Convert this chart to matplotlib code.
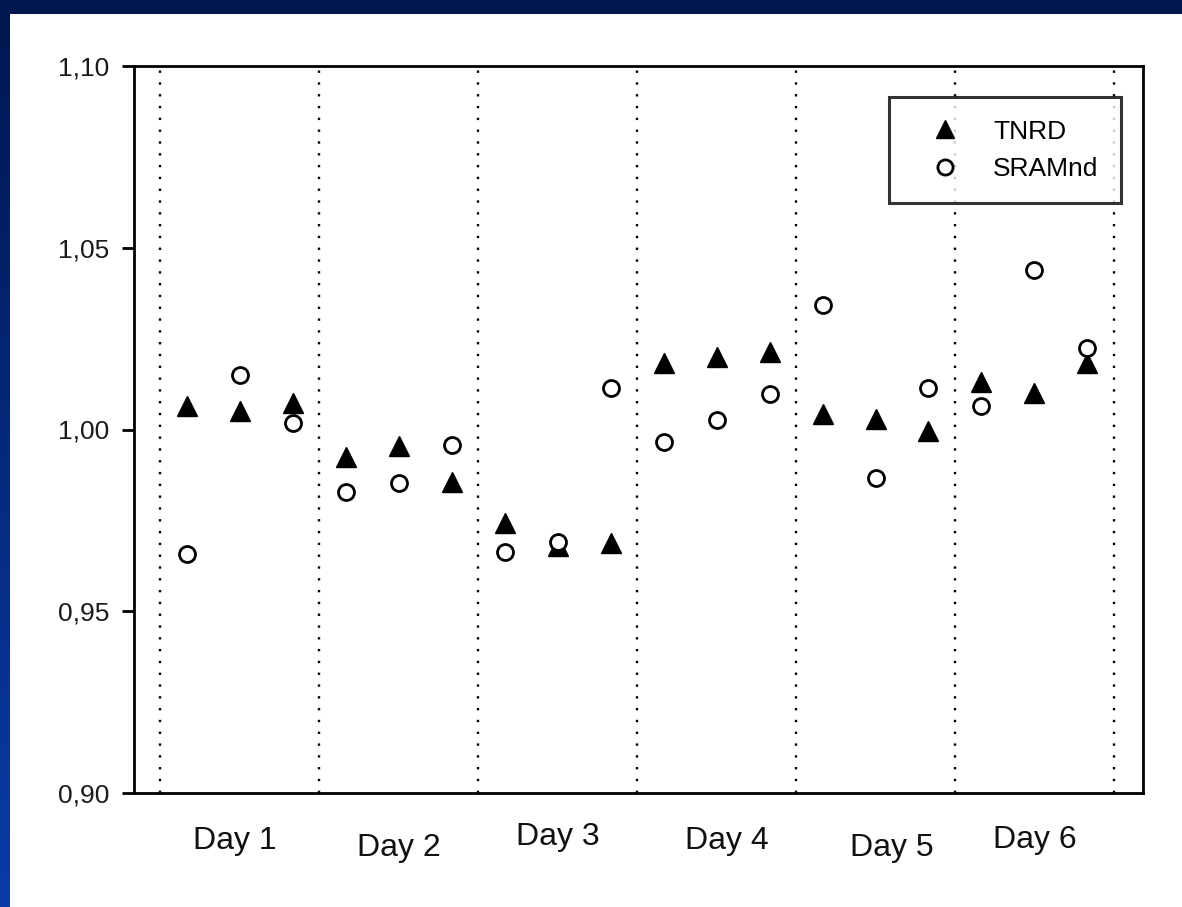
import numpy as np
import matplotlib
matplotlib.use("Agg")
import matplotlib.pyplot as plt

plt.rcParams["font.family"] = ["Liberation Sans", "DejaVu Sans"]

# data, three runs per day
days = ["Day 1", "Day 2", "Day 3", "Day 4", "Day 5", "Day 6"]
tnrd = [1.0065, 1.0051, 1.0073,
        0.9924, 0.9954, 0.9856,
        0.9743, 0.9680, 0.9688,
        1.0183, 1.0199, 1.0213,
        1.0043, 1.0029, 0.9995,
        1.0131, 1.0100, 1.0183]
sramnd = [0.9657, 1.0150, 1.0018,
          0.9828, 0.9853, 0.9958,
          0.9664, 0.9691, 1.0115,
          0.9965, 1.0026, 1.0097,
          1.0342, 0.9866, 1.0114,
          1.0064, 1.0439, 1.0225]
y_ticks = [0.90, 0.95, 1.00, 1.05, 1.10]
y_tick_labels = ["0,90", "0,95", "1,00", "1,05", "1,10"]

x = np.arange(1, len(tnrd) + 1)

fig = plt.figure(figsize=(11.82, 9.07), dpi=100)

# blue slide frame (top and left)
bg = fig.add_axes([0, 0, 1, 1])
grad = np.linspace(0, 1, 256).reshape(-1, 1)
bg.imshow(grad, aspect="auto", extent=[0, 1, 0, 1],
          cmap=matplotlib.colors.LinearSegmentedColormap.from_list(
              "slide", ["#0a3ca8", "#001650"]), origin="lower")
bg.add_patch(plt.Rectangle((10 / 1182, 0), 1, 1 - 14 / 907,
                           facecolor="white", edgecolor="none"))
bg.set_xlim(0, 1)
bg.set_ylim(0, 1)
bg.axis("off")

ax = fig.add_axes([134 / 1182, 114 / 907, 1009 / 1182, 727 / 907])
ax.set_facecolor("none")

# day separators
for k in range(len(days) + 1):
    ax.axvline(0.5 + 3 * k, color="black", lw=1.7, ls=(0, (1, 4.0)), zorder=1)

ax.plot(x, tnrd, ls="none", marker="^", ms=14, color="black",
        label="TNRD", zorder=3)
ax.plot(x, sramnd, ls="none", marker="o", ms=11.5, mfc="white", mec="black",
        mew=2, label="SRAMnd", zorder=4)

ax.set_xlim(0, 19.05)
ax.set_ylim(0.90, 1.10)
ax.set_yticks(y_ticks)
ax.set_yticklabels(y_tick_labels, fontsize=19, color="#1a1a1a")
ax.tick_params(axis="y", length=9, width=2, pad=9)
ax.set_xticks([])
for s in ax.spines.values():
    s.set_linewidth(2)

# day labels, slightly staggered as in the original
label_dy = [0.066, 0.075, 0.060, 0.066, 0.075, 0.064]
label_dx = [-0.1, 0.0, 0.0, 0.2, 0.3, 0.0]
for i, d in enumerate(days):
    ax.text(2 + 3 * i + label_dx[i], -label_dy[i], d, transform=ax.get_xaxis_transform(),
            ha="center", va="center", fontsize=23, color="#111111")

leg = ax.legend(loc="upper right", bbox_to_anchor=(0.978, 0.957), fontsize=19,
                frameon=True, fancybox=False, edgecolor="black",
                borderpad=0.85, handletextpad=0.5, labelspacing=0.5,
                borderaxespad=0, handlelength=2.6, markerscale=0.95)
leg.get_frame().set_linewidth(2.2)
leg.set_zorder(10)

fig.savefig("out.png", dpi=100)
